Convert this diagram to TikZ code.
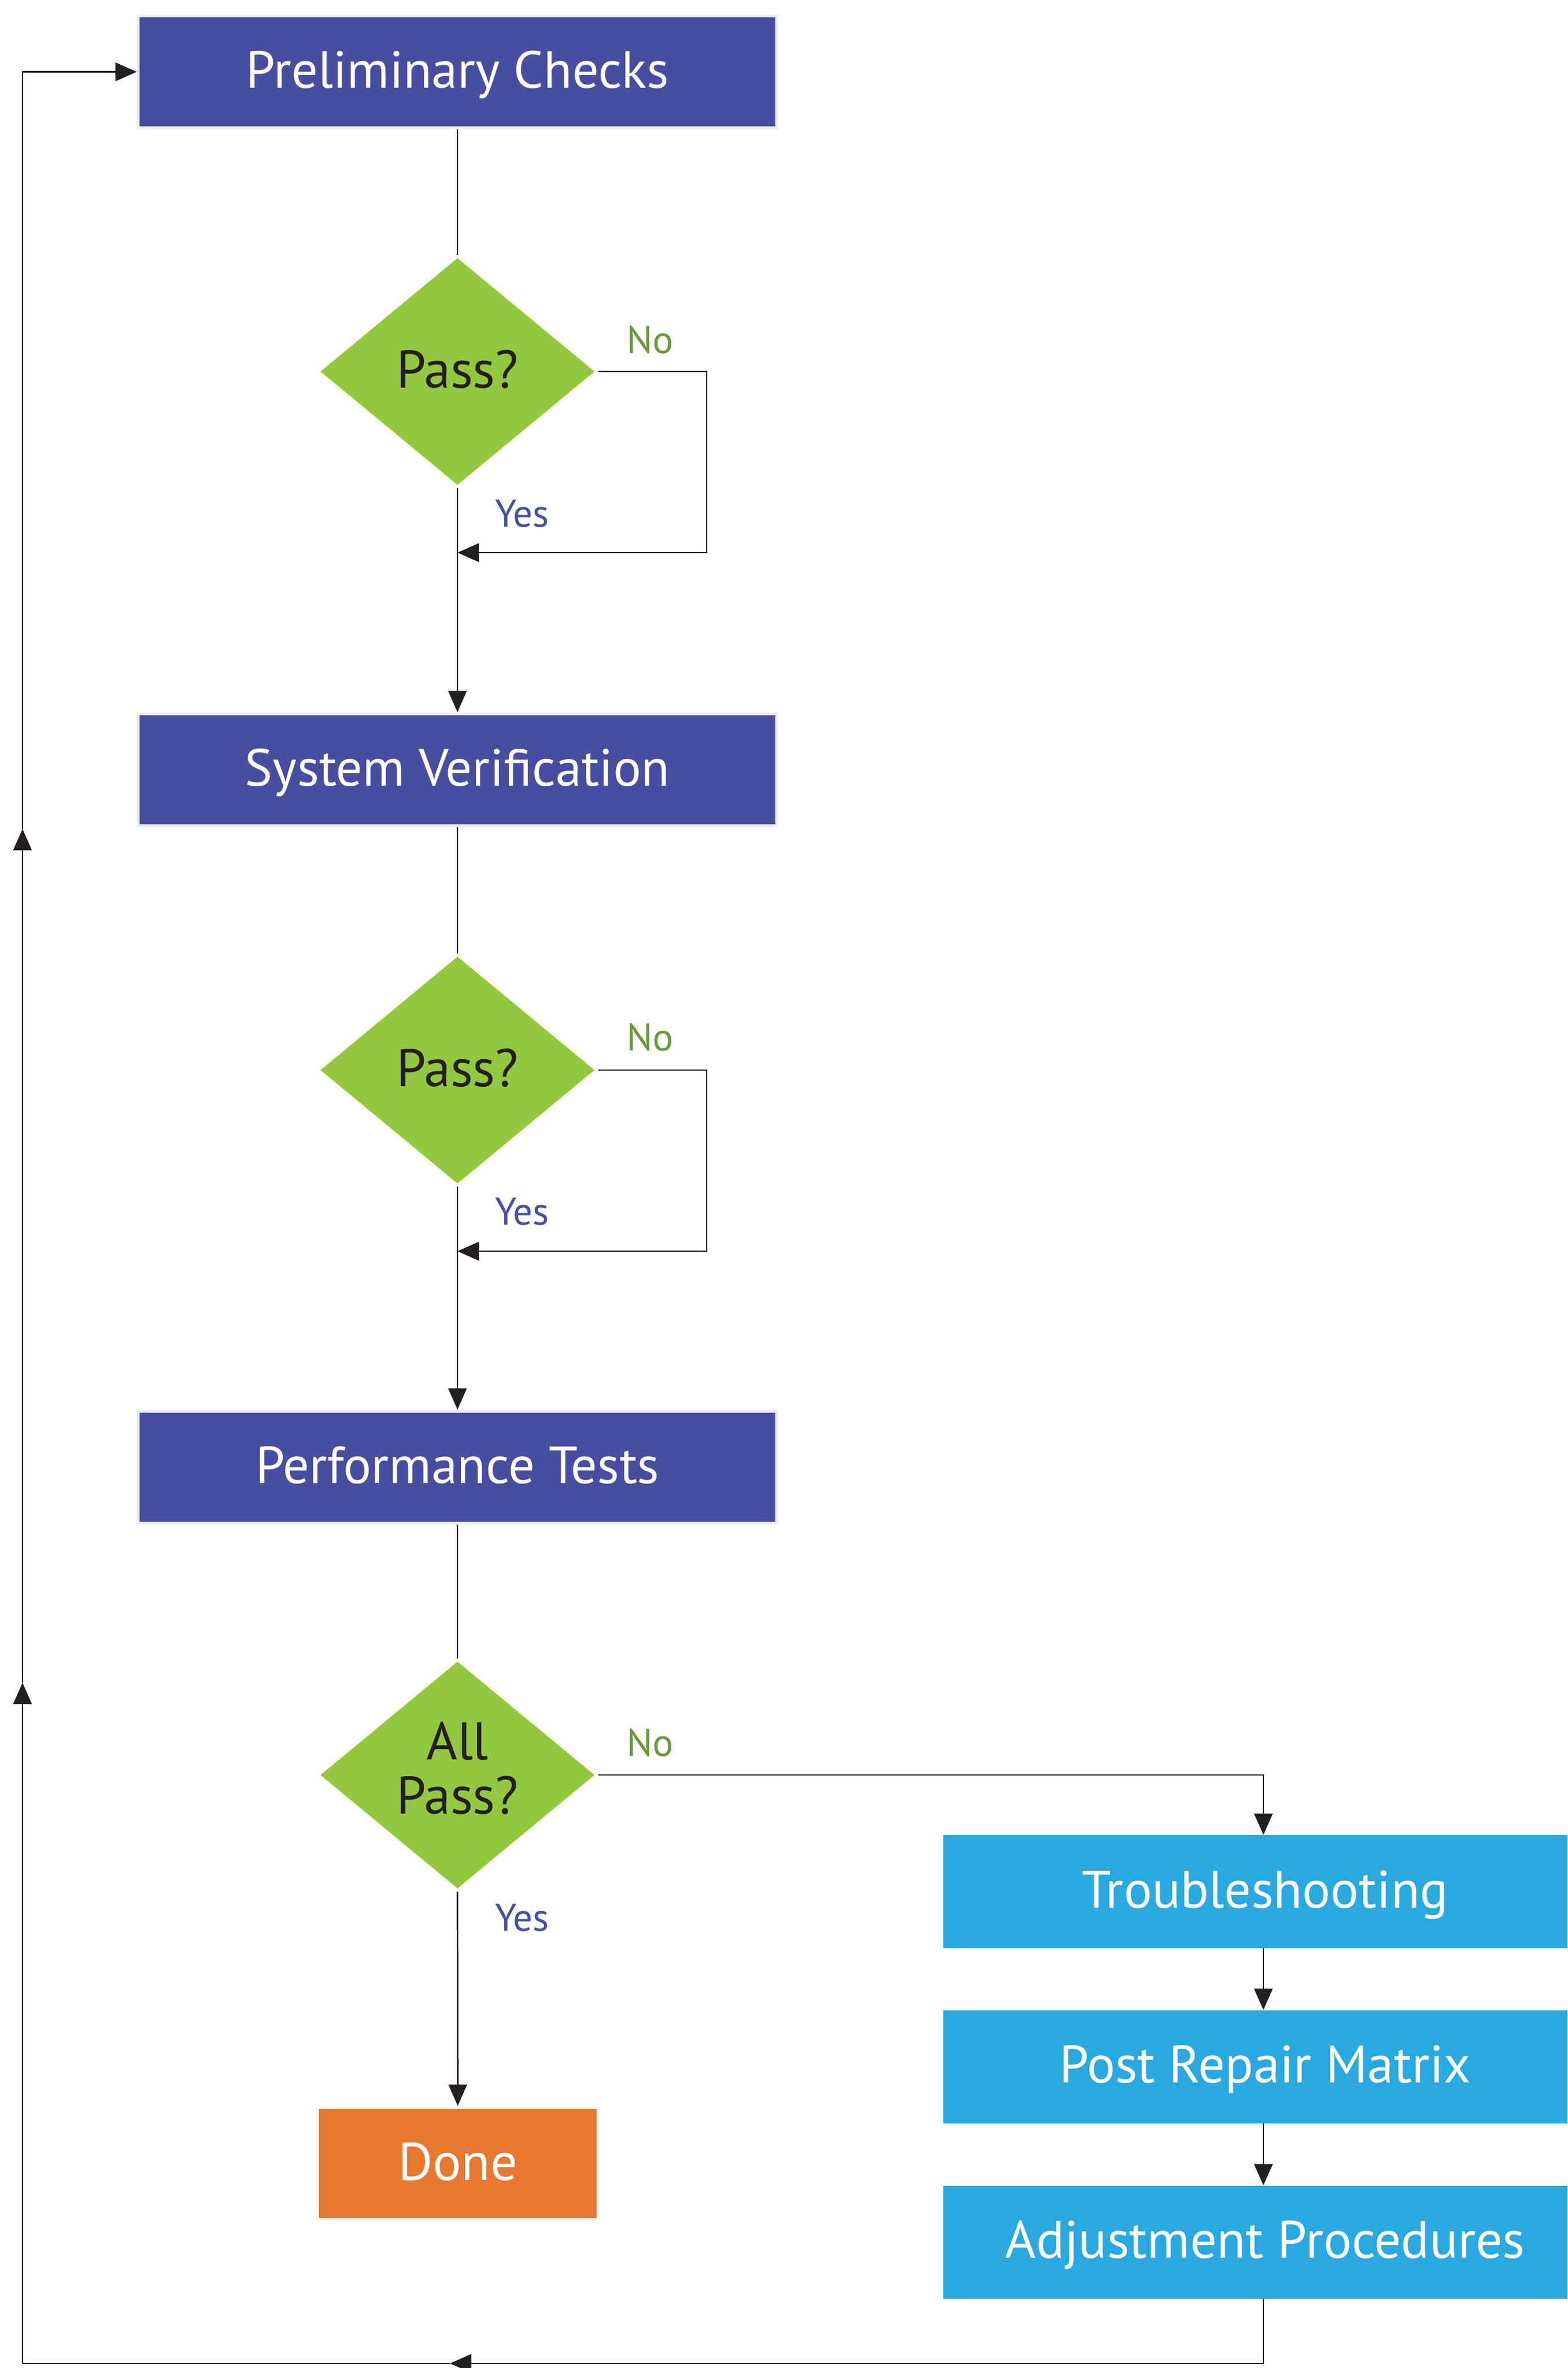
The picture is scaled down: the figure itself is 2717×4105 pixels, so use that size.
\documentclass[tikz,border=0pt]{standalone}
\usepackage{fontspec}
\setmainfont{PT Sans}
\usetikzlibrary{arrows.meta,shapes.geometric}
\definecolor{boxblue}{HTML}{474EA0}
\definecolor{boxedge}{HTML}{EEEEF7}
\definecolor{diagreen}{HTML}{93C83E}
\definecolor{diaedge}{HTML}{FBFCEB}
\definecolor{cyanbox}{HTML}{29A9E0}
\definecolor{donebox}{HTML}{E77830}
\definecolor{doneedge}{HTML}{FDF6F0}
\definecolor{linec}{HTML}{231F20}
\definecolor{nocol}{HTML}{6A9A3A}
\definecolor{yescol}{HTML}{4450A2}
\begin{document}
\begin{tikzpicture}[x=1pt,y=-1pt,
  line/.style={draw=linec, line width=2.7pt},
  arr/.style={line, -{Triangle[length=37pt,width=32pt]}},
  mainbox/.style={rectangle, fill=boxblue, draw=boxedge, line width=5pt,
    minimum width=1107pt, minimum height=194pt, inner sep=0pt, text=white,
    font=\fontsize{90.5}{110}\selectfont, text height=124pt, text depth=67pt},
  cyanrect/.style={rectangle, fill=cyanbox, minimum width=1116pt, minimum height=196pt,
    inner sep=0pt, text=white, font=\fontsize{91.5}{110}\selectfont,
    text height=126pt, text depth=70pt},
  donerect/.style={rectangle, fill=donebox, draw=doneedge, line width=5pt,
    minimum width=486pt, minimum height=194pt, inner sep=0pt, text=white,
    font=\fontsize{92}{110}\selectfont, text height=125pt, text depth=66pt},
  decision/.style={diamond, fill=diagreen, draw=diaedge, line width=4pt,
    minimum width=483pt, minimum height=400pt, inner sep=0pt, text=linec,
    font=\fontsize{92}{94}\selectfont},
  nolab/.style={text=nocol, font=\fontsize{67}{80}\selectfont, inner sep=0pt, anchor=base},
  yeslab/.style={text=yescol, font=\fontsize{67}{80}\selectfont, inner sep=0pt, anchor=base}
]
\useasboundingbox (0,0) rectangle (2717,4105);
\clip (0,0) rectangle (2717,4105);

% main column
\node[mainbox] (pc) at (793,124.5) {Preliminary Checks};
\node[decision, text height=70pt, text depth=14pt] (d1) at (793,644) {Pass?};
\node[mainbox] (sv) at (793,1334) {System Verification};
\node[decision, text height=70pt, text depth=14pt] (d2) at (793,1855) {Pass?};
\node[mainbox] (pt) at (793,2543) {Performance Tests};
\node[decision, align=center] (d3) at (793,3077)
  {\raisebox{12pt}[\height][\depth]{All}\\\raisebox{12pt}[\height][\depth]{Pass?}};
\node[donerect] (done) at (793.5,3750) {Done};

% right column
\node[cyanrect] (ts) at (2193,3279) {Troubleshooting};
\node[cyanrect] (pr) at (2193,3582.5) {Post Repair Matrix};
\node[cyanrect] (ad) at (2193,3886.5) {Adjustment Procedures};

% labels
\node[nolab] (no1) at (1127,612) {No};
\node[yeslab] (yes1) at (905,913) {Yes};
\node[nolab] (no2) at (1127,1821) {No};
\node[yeslab] (yes2) at (905,2123) {Yes};
\node[nolab] (no3) at (1127,3044) {No};
\node[yeslab] (yes3) at (905,3347) {Yes};

% coordinates
\coordinate (l1a) at (1225,644);
\coordinate (l1b) at (1225,958);
\coordinate (l2a) at (1225,1855);
\coordinate (l2b) at (1225,2169);
\coordinate (nr) at (2190,3077);
\coordinate (rb) at (2190,4097);
\coordinate (b1) at (780,4097);
\coordinate (lb) at (39,4097);
\coordinate (u1) at (39,2917);
\coordinate (u2) at (39,1437);
\coordinate (lt) at (39,124.5);

% connectors
\draw[line] (pc.south) -- (d1.north);
\draw[arr] (d1.south) -- (sv.north);
\draw[arr] (d1.east) -- (l1a) -- (l1b) -- (l1b -| d1.south);
\draw[line] (sv.south) -- (d2.north);
\draw[arr] (d2.south) -- (pt.north);
\draw[arr] (d2.east) -- (l2a) -- (l2b) -- (l2b -| d2.south);
\draw[line] (pt.south) -- (d3.north);
\draw[arr] (d3.south) -- (done.north);
\draw[arr] (d3.east) -- (nr) -- (nr |- ts.north);
\draw[arr] (ts.south -| nr) -- (pr.north -| nr);
\draw[arr] (pr.south -| nr) -- (ad.north -| nr);
\draw[arr] (ad.south -| nr) -- (rb) -- (b1);
\draw[arr] (b1) -- (lb) -- (u1);
\draw[arr] (u1) -- (u2);
\draw[arr] (u2) -- (lt) -- (pc.west);
\end{tikzpicture}
\end{document}
